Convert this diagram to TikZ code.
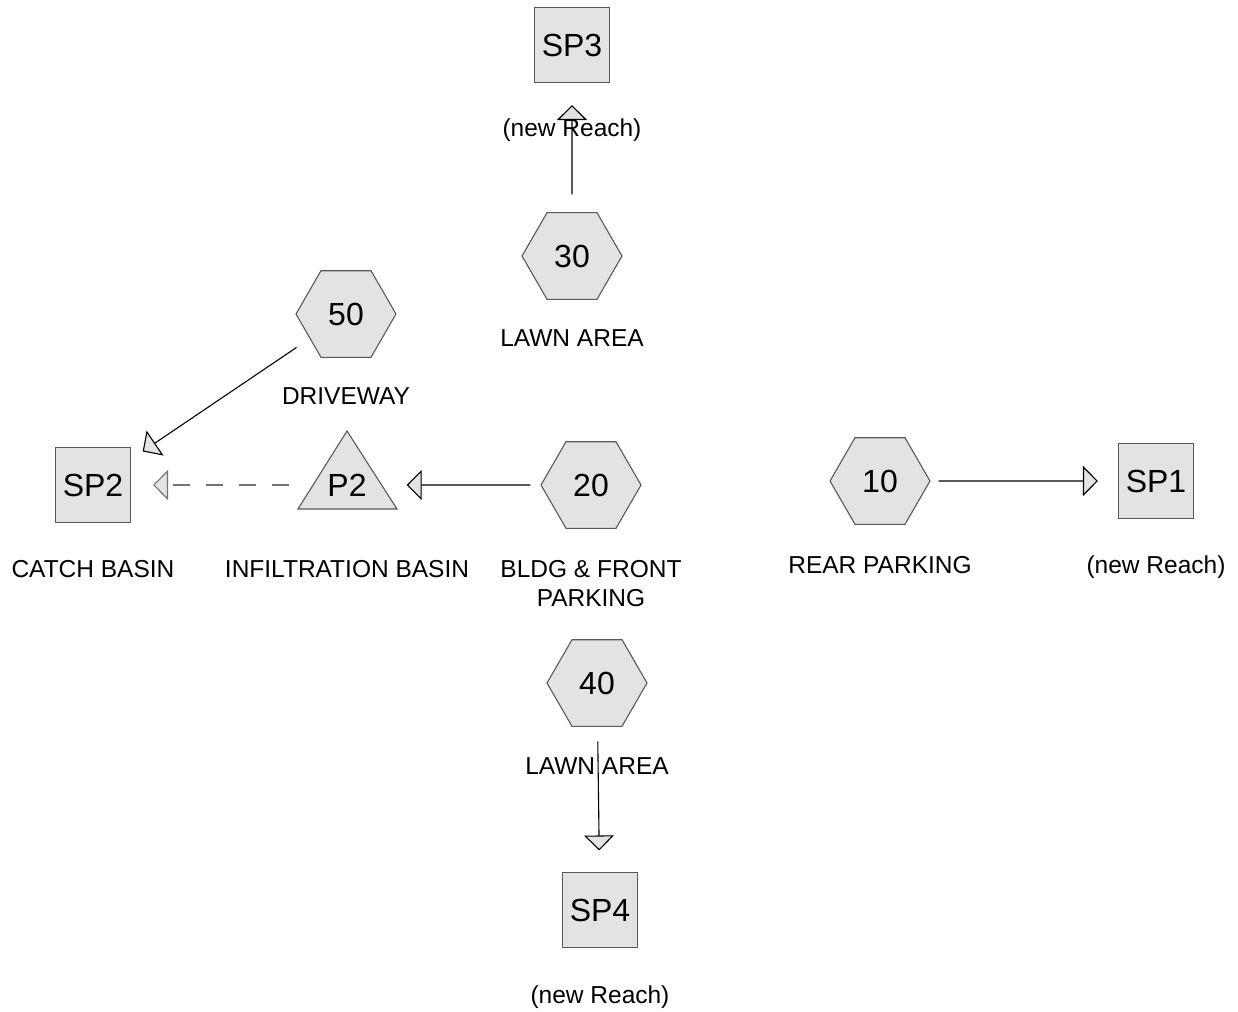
\documentclass[tikz,border=0pt]{standalone}
\usepackage{fontspec}
\setmainfont{Liberation Sans}
\usetikzlibrary{shapes.geometric,arrows.meta}
\begin{document}
\begin{tikzpicture}[x=1pt,y=-1pt,
  shp/.style={draw=black!65, fill=black!11, line width=1.1pt},
  lbl/.style={font=\fontsize{32}{32}\selectfont},
  hexa/.style={shp, lbl, regular polygon, regular polygon sides=6, minimum size=100pt, inner sep=0pt},
  sq/.style={shp, lbl, rectangle, minimum size=75pt, inner sep=0pt},
  captxt/.style={anchor=base, inner sep=0pt, font=\fontsize{24.5}{29}\selectfont},
  flow/.style={line width=1.1pt, -{Triangle[width=30pt,length=15pt,fill=black!11]}},
  dflow/.style={flow, draw=black!55, dash pattern=on 17pt off 16pt},
]
\useasboundingbox (0,0) rectangle (1238,1011);

% nodes
\node[sq] (sp3) at (572,45) {SP3};
\node[captxt] (c-sp3) at (572,137) {(new Reach)};
\node[hexa] (h30) at (572,256) {30};
\node[captxt] (c-h30) at (572,346) {LAWN AREA};
\node[hexa] (h50) at (346,314) {50};
\node[captxt] (c-h50) at (346,404) {DRIVEWAY};
\node[sq] (sp2) at (93,485) {SP2};
\node[captxt] (c-sp2) at (93,577) {CATCH BASIN};
\draw[shp] (298,509) -- (397,509) -- (347,431) -- cycle;
\node[lbl, minimum width=99pt, inner sep=0pt] (p2) at (347,485) {P2};
\node[captxt] (c-p2) at (347,577) {INFILTRATION BASIN};
\node[hexa] (h20) at (591,485) {20};
\node[captxt] (c-h20a) at (591,577) {BLDG \& FRONT};
\node[captxt] (c-h20b) at (591,606) {PARKING};
\node[hexa] (h10) at (880,481) {10};
\node[captxt] (c-h10) at (880,573) {REAR PARKING};
\node[sq] (sp1) at (1156,481) {SP1};
\node[captxt] (c-sp1) at (1156,573) {(new Reach)};
\node[hexa] (h40) at (597,683) {40};
\node[captxt] (c-h40) at (597,774) {LAWN AREA};
\node[sq] (sp4) at (600,910) {SP4};
\node[captxt] (c-sp4) at (600,1003) {(new Reach)};

% connectors
\draw[flow, shorten <=17.7pt, shorten >=22pt] (h30) -- (sp3);
\draw[flow, shorten <=15.8pt, shorten >=14pt] (h50) -- (sp2);
\draw[flow, shorten <=10pt, shorten >=10pt] (h20) -- (p2);
\draw[dflow, shorten <=8pt, shorten >=22pt] (p2) -- (sp2);
\draw[flow, shorten <=8pt, shorten >=20pt] (h10) -- (sp1);
\draw[flow, shorten <=14.7pt, shorten >=21.5pt] (h40) -- (sp4);
\end{tikzpicture}
\end{document}
